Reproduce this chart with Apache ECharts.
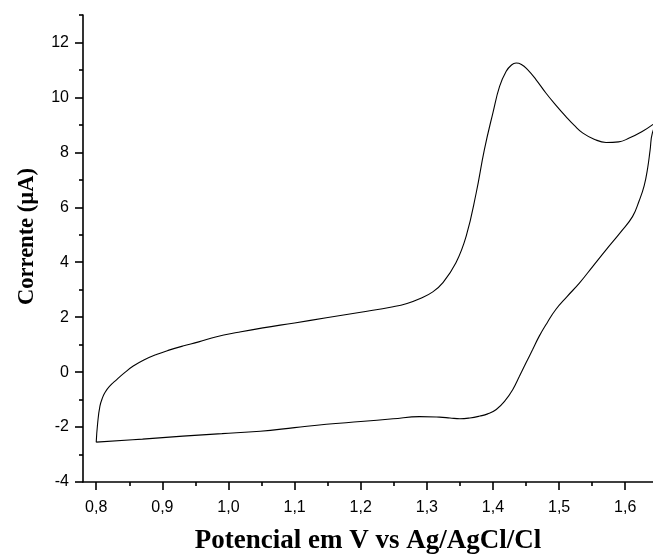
<!DOCTYPE html>
<html>
<head>
<meta charset="utf-8">
<script src="https://cdn.jsdelivr.net/npm/echarts@6/dist/echarts.min.js"></script>
<style>html,body{margin:0;padding:0;background:#fff}#c{width:653px;height:557px}</style>
</head>
<body>
<div id="c"></div>
<script>
// Forward (anodic) scan, potential in V and current in µA
const forwardE = [0.800,0.802,0.8056,0.810,0.813,0.820,0.831,0.843,0.856,0.872,0.891,0.910,0.931,0.955,0.982,1.015,1.052,1.100,1.148,1.200,1.249,1.270,1.290,1.309,1.324,1.344,1.3595,1.3746,1.387,1.400,1.410,1.420,1.428,1.435,1.443,1.452,1.465,1.480,1.495,1.510,1.523,1.536,1.553,1.571,1.590,1.606,1.625,1.641,1.650];
const forwardI = [-2.55,-1.90,-1.24,-0.90,-0.75,-0.52,-0.27,-0.02,0.22,0.44,0.64,0.80,0.95,1.10,1.29,1.45,1.61,1.79,1.98,2.18,2.38,2.50,2.68,2.92,3.25,3.98,4.95,6.52,8.10,9.45,10.40,10.95,11.18,11.25,11.20,11.02,10.65,10.16,9.72,9.31,8.98,8.70,8.48,8.36,8.38,8.52,8.75,9.00,9.20];
// Reverse (cathodic) scan
const reverseE = [1.641,1.6377,1.634,1.6287,1.6211,1.611,1.5925,1.5713,1.551,1.531,1.512,1.495,1.482,1.470,1.460,1.450,1.440,1.430,1.418,1.405,1.392,1.380,1.365,1.350,1.335,1.319,1.289,1.249,1.200,1.148,1.100,1.048,0.990,0.931,0.870,0.800];
const reverseI = [8.70,8.10,7.44,6.79,6.24,5.66,5.08,4.46,3.85,3.25,2.75,2.28,1.80,1.31,0.82,0.34,-0.15,-0.63,-1.05,-1.36,-1.52,-1.60,-1.67,-1.70,-1.67,-1.64,-1.62,-1.70,-1.80,-1.90,-2.02,-2.15,-2.24,-2.33,-2.44,-2.55];
// Axis ticks
const xMajorTicks = [0.8,0.9,1.0,1.1,1.2,1.3,1.4,1.5,1.6];
const xMinorTicks = [0.85,0.95,1.05,1.15,1.25,1.35,1.45,1.55];
const yMajorTicks = [-4,-2,0,2,4,6,8,10,12];
const yMinorTicks = [-3,-1,1,3,5,7,9,11,13];

const loop = [];
forwardE.forEach((e,i)=>loop.push([e,forwardI[i]]));
reverseE.forEach((e,i)=>loop.push([e,reverseI[i]]));

const XMIN = 0.78, XMAX = 1.642, YMIN = -4, YMAX = 13;
const lineSt = {color:'#000', width:1.6};
const chart = echarts.init(document.getElementById('c'), null, {renderer:'canvas'});
chart.setOption({
  animation:false,
  backgroundColor:'#fff',
  grid:{left:83, right:0, top:15, bottom:75, containLabel:false, outerBoundsMode:'none'},
  xAxis:[{
    type:'value', min:XMIN, max:XMAX, position:'bottom',
    name:'Potencial em V vs Ag/AgCl/Cl', nameLocation:'middle', nameGap:46,
    nameTextStyle:{fontFamily:'Liberation Serif', fontWeight:'bold', fontSize:27, color:'#000'},
    axisLine:{show:true, onZero:false, lineStyle:lineSt},
    axisTick:{show:true, inside:false, length:8, lineStyle:lineSt, customValues:xMajorTicks},
    axisLabel:{show:true, margin:18, fontFamily:'Liberation Sans', fontSize:16, color:'#000',
      customValues:xMajorTicks, formatter:v=>v.toFixed(1).replace('.',',')},
    splitLine:{show:false}
  },{
    type:'value', min:XMIN, max:XMAX, position:'bottom',
    axisLine:{show:false, onZero:false},
    axisTick:{show:true, length:4, lineStyle:lineSt, customValues:xMinorTicks},
    axisLabel:{show:false}, splitLine:{show:false}
  }],
  yAxis:[{
    type:'value', min:YMIN, max:YMAX, position:'left',
    name:'Corrente (µA)', nameLocation:'middle', nameGap:44,
    nameTextStyle:{fontFamily:'Liberation Serif', fontWeight:'bold', fontSize:22.5, color:'#000', padding:[0,0,0,24]},
    axisLine:{show:true, onZero:false, lineStyle:lineSt},
    axisTick:{show:true, length:8, lineStyle:lineSt, customValues:yMajorTicks},
    axisLabel:{show:true, margin:14, fontFamily:'Liberation Sans', fontSize:16, color:'#000',
      customValues:yMajorTicks, formatter:v=>String(v)},
    splitLine:{show:false}
  },{
    type:'value', min:YMIN, max:YMAX, position:'left',
    axisLine:{show:false, onZero:false},
    axisTick:{show:true, length:4, lineStyle:lineSt, customValues:yMinorTicks},
    axisLabel:{show:false}, splitLine:{show:false}
  }],
  series:[{
    type:'line', xAxisIndex:0, yAxisIndex:0, data:loop,
    showSymbol:false, symbol:'none', smooth:0.45, clip:true,
    lineStyle:{color:'#000', width:1.1}
  }]
});
</script>
</body>
</html>
